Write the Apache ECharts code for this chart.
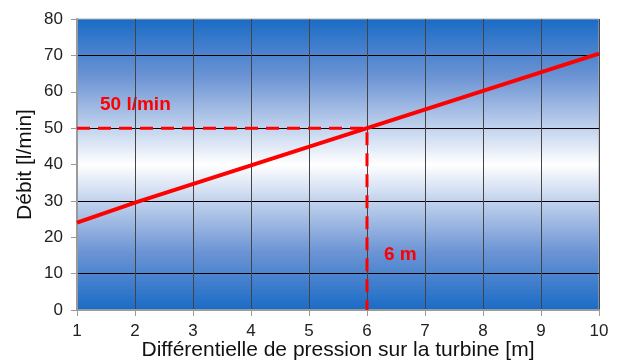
<!DOCTYPE html>
<html><head><meta charset="utf-8">
<script src="https://cdn.jsdelivr.net/npm/echarts@6/dist/echarts.min.js"></script>
<style>html,body{margin:0;padding:0;background:#fff}#c{width:620px;height:363px}</style>
</head><body><div id="c"></div>
<script>
const xTicks = [1,2,3,4,5,6,7,8,9,10];
const yTicks = [0,10,20,30,40,50,60,70,80];
const flowX = [1, 2, 6, 10];
const flowY = [24, 29.5, 50, 70.5];
const refX = [1, 6, 6];
const refY = [50, 50, 0];
const labelFlow = '50 l/min';
const labelHead = '6 m';

const chart = echarts.init(document.getElementById('c'));
const font = 'Liberation Sans, Arial, sans-serif';
chart.setOption({
  animation: false,
  grid: {
    left: 77, right: 21, top: 19, bottom: 53, show: true,
    outerBoundsMode: 'none', containLabel: false,
    borderColor: '#b0b0b0', borderWidth: 1,
    backgroundColor: new echarts.graphic.LinearGradient(0,0,0,1,[
      {offset:0, color:'#196bc6'},
      {offset:0.2, color:'#6c94d4'},
      {offset:0.5, color:'#ffffff'},
      {offset:0.8, color:'#6c94d4'},
      {offset:1, color:'#196bc6'}
    ])
  },
  xAxis: {
    type: 'value', min: xTicks[0], max: xTicks[xTicks.length-1], interval: 1,
    name: 'Différentielle de pression sur la turbine [m]',
    nameLocation: 'middle', nameGap: 30, nameMoveOverlap: false,
    nameTextStyle: {fontFamily: font, fontSize: 21, color: '#111'},
    axisLine: {lineStyle: {color: '#9a9a9a', width: 2}},
    axisTick: {show: true, length: 6, lineStyle: {color: '#9a9a9a', width: 1}},
    axisLabel: {fontFamily: font, fontSize: 17, color: '#222', margin: 13},
    splitLine: {show: true, lineStyle: {color: '#444', width: 1}}
  },
  yAxis: {
    type: 'value', min: yTicks[0], max: yTicks[yTicks.length-1], interval: 10,
    name: 'Débit [l/min]', nameLocation: 'middle', nameGap: 41, nameMoveOverlap: false,
    nameTextStyle: {fontFamily: font, fontSize: 21, color: '#111'},
    axisLine: {show: true, lineStyle: {color: '#9a9a9a', width: 2}},
    axisTick: {show: true, length: 6, lineStyle: {color: '#9a9a9a', width: 1}},
    axisLabel: {fontFamily: font, fontSize: 17, color: '#222', margin: 14},
    splitLine: {show: true, lineStyle: {color: ['rgba(0,0,0,0)', '#000'], width: 1}}
  },
  series: [
    {
      type: 'line', data: flowX.map((x,i)=>[x, flowY[i]]),
      symbol: 'none', lineStyle: {color: '#ff0000', width: 4}, z: 5
    },
    {
      type: 'line', data: refX.map((x,i)=>[x, refY[i]]),
      symbol: 'none', lineStyle: {color: '#ff0000', width: 3, type: [13, 8]}, z: 4
    }
  ],
  graphic: [
    {type: 'text', left: 100, top: 95, style: {text: labelFlow, fill: '#ff0000', font: 'bold 19px ' + font}},
    {type: 'text', left: 384, top: 245, style: {text: labelHead, fill: '#ff0000', font: 'bold 19px ' + font}}
  ]
});
</script></body></html>
